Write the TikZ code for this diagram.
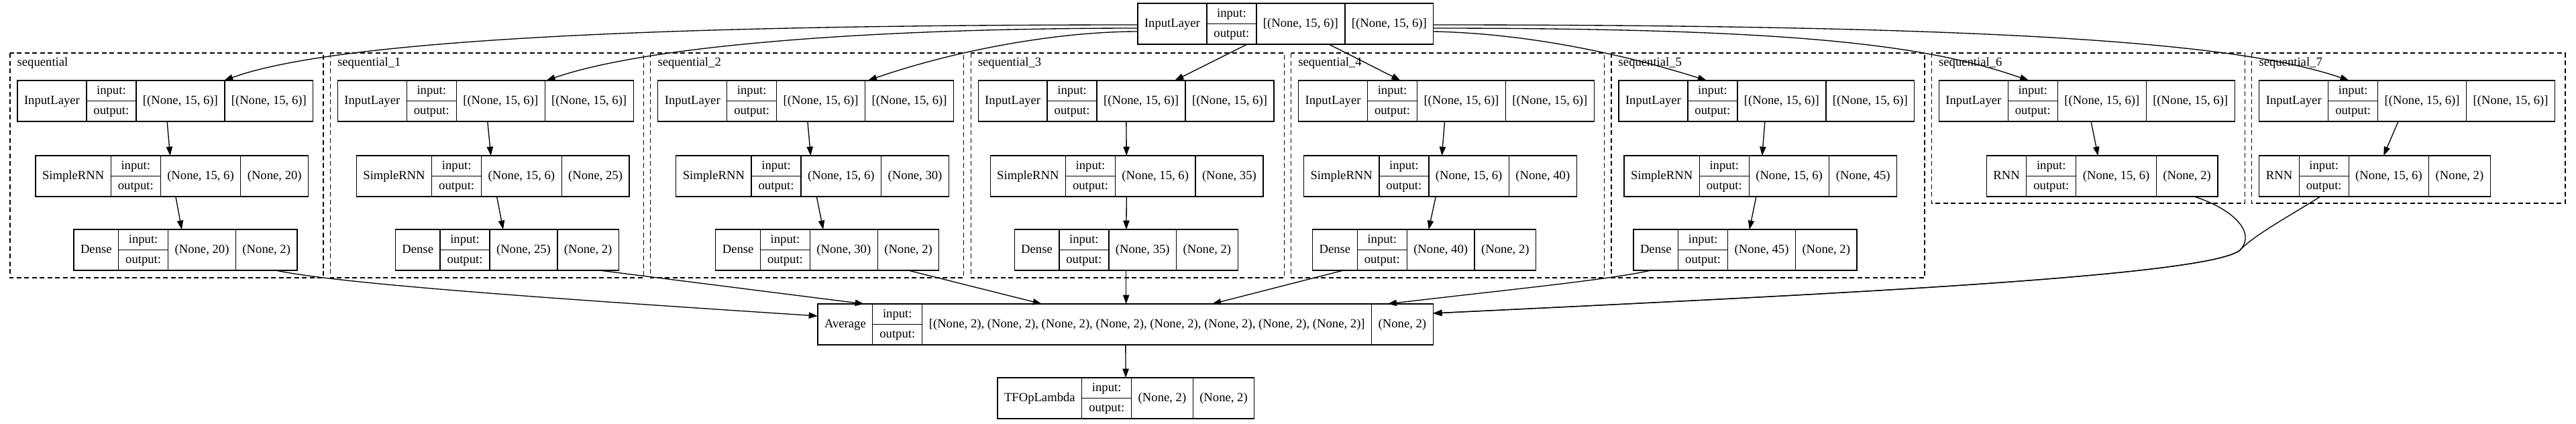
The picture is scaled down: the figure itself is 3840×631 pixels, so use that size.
\documentclass[tikz,border=0pt]{standalone}
\usepackage{fontspec}
\setmainfont{Liberation Serif}
\usetikzlibrary{arrows.meta, fit, calc}

% one keras layer: name, top-left corner, class, input shape, output shape
\newcommand{\kerasrow}[5]{%
  \node[cellbox, anchor=north west] (#1-n) at (#2) {#3};
  \node[iobox, anchor=north west] (#1-i) at (#1-n.north east) {input:};
  \node[iobox, anchor=north west] (#1-o) at (#1-i.south west) {output:};
  \node[cellbox, anchor=north west] (#1-a) at (#1-i.north east) {#4};
  \node[cellbox, anchor=north west] (#1-b) at (#1-a.north east) {#5};
  \node[inner sep=0pt, outer sep=0pt, fit=(#1-n)(#1-b)] (#1) {};
}

\begin{document}
\begin{tikzpicture}[x=0.1mm, y=-0.1mm,
    every node/.style={font=\fontsize{5.31}{6.4}\selectfont},
    cellbox/.style={draw, line width=0.38pt, outer sep=0pt, inner xsep=1mm, inner ysep=0pt, minimum height=6.1mm, text height=1.45mm, text depth=0.45mm},
    iobox/.style={cellbox, minimum height=3.05mm, minimum width=7.4mm},
    clusterbox/.style={draw, line width=0.38pt, dash pattern=on 0.7mm off 0.45mm},
    link/.style={-{Triangle[length=1.33mm, width=0.93mm]}, line width=0.38pt},
    tag/.style={anchor=west, inner sep=0pt}]

    % page
    \path[use as bounding box, fill=white] (0,0) rectangle (3840,631);

    % model input
    \kerasrow{inp}{1696,5}{InputLayer}{[(None, 15, 6)]}{[(None, 15, 6)]}

    % SimpleRNN members
    \foreach \k/\ro/\dn/\un/\nm in {0/38/95/20/sequential, 1/39/97/25/sequential\_1, 2/38/97/30/sequential\_2,
        3/29/65/35/sequential\_3, 4/19/32/40/sequential\_4, 5/19/33/45/sequential\_5} {
        \pgfmathsetmacro{\cx}{15+477.4*\k}
        \draw[clusterbox] (\cx,79) rectangle ++(467,335);
        \node[tag] (lb\k) at (\cx+10,94) {\nm};
        \kerasrow{in\k}{\cx+11,120}{InputLayer}{[(None, 15, 6)]}{[(None, 15, 6)]}
        \kerasrow{rnn\k}{\cx+\ro,232}{SimpleRNN}{(None, 15, 6)}{(None, \un)}
        \kerasrow{dn\k}{\cx+\dn,342}{Dense}{(None, \un)}{(None, 2)}
        \draw[link] (in\k) -- (rnn\k);
        \draw[link] (rnn\k) -- (dn\k);
    }

    % RNN members
    \foreach \k/\ro in {6/82, 7/11} {
        \pgfmathsetmacro{\cx}{15+477.4*\k}
        \draw[clusterbox] (\cx,79) rectangle ++(467,224);
        \node[tag] (lb\k) at (\cx+10,94) {sequential\_\k};
        \kerasrow{in\k}{\cx+11,120}{InputLayer}{[(None, 15, 6)]}{[(None, 15, 6)]}
        \kerasrow{rnn\k}{\cx+\ro,232}{RNN}{(None, 15, 6)}{(None, 2)}
        \draw[link] (in\k) -- (rnn\k);
    }

    % merge and output
    \kerasrow{avg}{1219,453}{Average}{[(None, 2), (None, 2), (None, 2), (None, 2), (None, 2), (None, 2), (None, 2), (None, 2)]}{(None, 2)}
    \kerasrow{tfop}{1487,563}{TFOpLambda}{(None, 2)}{(None, 2)}
    \draw[link] (avg) -- (tfop);

    % input to members
    \draw[link] ($(inp.north west)+(0,32)$) .. controls +(-750,0) and +(160,-58) .. ($(in0.north west)+(308,0)$);
    \draw[link] ($(inp.north west)+(0,37)$) .. controls +(-400,0) and +(150,-52) .. ($(in1.north west)+(311,0)$);
    \draw[link] ($(inp.north west)+(0,42)$) .. controls +(-120,0) and +(130,-45) .. ($(in2.north west)+(313,0)$);
    \draw[link] ($(inp.south west)+(163,0)$) -- ($(in3.north west)+(293,0)$);
    \draw[link] ($(inp.south west)+(285,0)$) -- ($(in4.north west)+(152,0)$);
    \draw[link] ($(inp.north east)+(0,42)$) .. controls +(150,3) and +(-110,-35) .. ($(in5.north west)+(131,0)$);
    \draw[link] ($(inp.north east)+(0,37)$) .. controls +(550,0) and +(-150,-52) .. ($(in6.north west)+(134,0)$);
    \draw[link] ($(inp.north east)+(0,32)$) .. controls +(900,0) and +(-152,-52) .. ($(in7.north west)+(134,0)$);

    % members to average
    \draw[link] ($(dn0.south east)+(-32,0)$) .. controls +(103,22) and +(-319,-21) .. ($(avg.north west)+(0,18)$);
    \draw[link] ($(dn1.south east)+(-29,0)$) -- ($(avg.north west)+(69,0)$);
    \draw[link] ($(dn2.south east)+(-46,0)$) -- ($(avg.north west)+(334,0)$);
    \draw[link] (dn3.south) -- (dn3.south |- avg.north);
    \draw[link] ($(dn4.south west)+(46,0)$) -- ($(avg.north west)+(588,0)$);
    \draw[link] ($(dn5.south west)+(26,0)$) .. controls +(-60,14) and +(150,-18) .. ($(avg-b.north west)+(24,0)$);
    \coordinate (mrg) at (3339,373);
    \draw[link] ($(rnn6.south east)+(-35,0)$) .. controls +(54,17) and +(26,-28) .. (mrg)
        .. controls +(-50,40) and +(558,-27) .. ($(avg.north east)+(0,14)$);
    \draw[link] ($(rnn7.south west)+(91,0)$) .. controls +(-39,25) and +(21,-23) .. (mrg)
        .. controls +(-50,40) and +(558,-27) .. ($(avg.north east)+(0,14)$);
\end{tikzpicture}
\end{document}
